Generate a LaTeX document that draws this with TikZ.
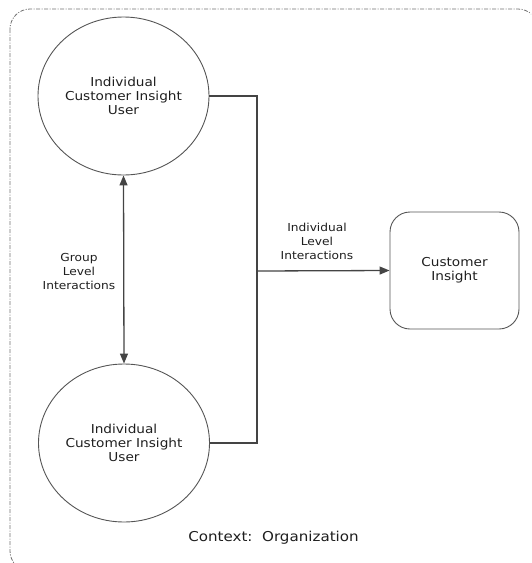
\documentclass[tikz,border=0pt]{standalone}
\usepackage{fontspec}
\setmainfont[FakeStretch=1.11]{DejaVu Sans}
\usetikzlibrary{shapes.geometric,arrows.meta}
\definecolor{ink}{HTML}{1E1E1E}
\definecolor{edge}{HTML}{444444}
\definecolor{rim}{HTML}{555555}
\definecolor{frame}{HTML}{707070}
\tikzset{
  actor/.style={ellipse, draw=rim, line width=0.9pt, minimum width=171pt,
    minimum height=158pt, inner sep=0pt, align=center, text=ink,
    font=\fontsize{12.3}{13.6}\selectfont},
  store/.style={rectangle, rounded corners=20pt, draw=rim, line width=0.9pt,
    minimum width=129pt, minimum height=117pt, align=center, text=ink,
    font=\fontsize{12.3}{13.6}\selectfont},
  flow/.style={draw=edge, line width=1.3pt},
  tip/.style={-{Triangle[length=10pt,width=8pt]}},
  lbl/.style={align=center, text=ink, font=\fontsize{11}{14}\selectfont},
  context/.style={draw=frame, line width=0.8pt,
    dash pattern=on 4pt off 1.5pt on 1pt off 1.5pt}
}
\begin{document}
\begin{tikzpicture}[x=1pt,y=-1pt]
\useasboundingbox (0,0) rectangle (531,563);
% organisation boundary, running past the right and bottom edges
\begin{scope}
  \clip (0,0) rectangle (531,563);
  \draw[context, rounded corners=20pt] (10,9) rectangle (538,571);
\end{scope}

\node[actor] (u1) at (123.5,96) {Individual\\Customer Insight\\User};
\node[actor] (u2) at (124,443) {Individual\\Customer Insight\\User};
\node[store] (ci) at (454.5,270.5) {Customer\\Insight};
\coordinate (j) at (257,271);

% individual-level interactions gathered onto one bus
\draw[flow] (u1.east) -- (u1.east -| j) -- (u2.east -| j) -- (u2.east);
\draw[flow, tip] (j) -- (ci.west);
\node[lbl] (il) at (317,241.5) {Individual\\Level\\Interactions};

% group-level interactions between the two users
\draw[flow, {Triangle[length=10pt,width=8pt]}-{Triangle[length=10pt,width=8pt]}] (u1.south) -- (u2.north);
\node[lbl] (gl) at (79,271) {Group\\Level\\Interactions};

\node[text=ink, font=\fontsize{13.6}{14}\selectfont] (ctx) at (273.5,538) {Context:\ \ Organization};
\end{tikzpicture}
\end{document}
